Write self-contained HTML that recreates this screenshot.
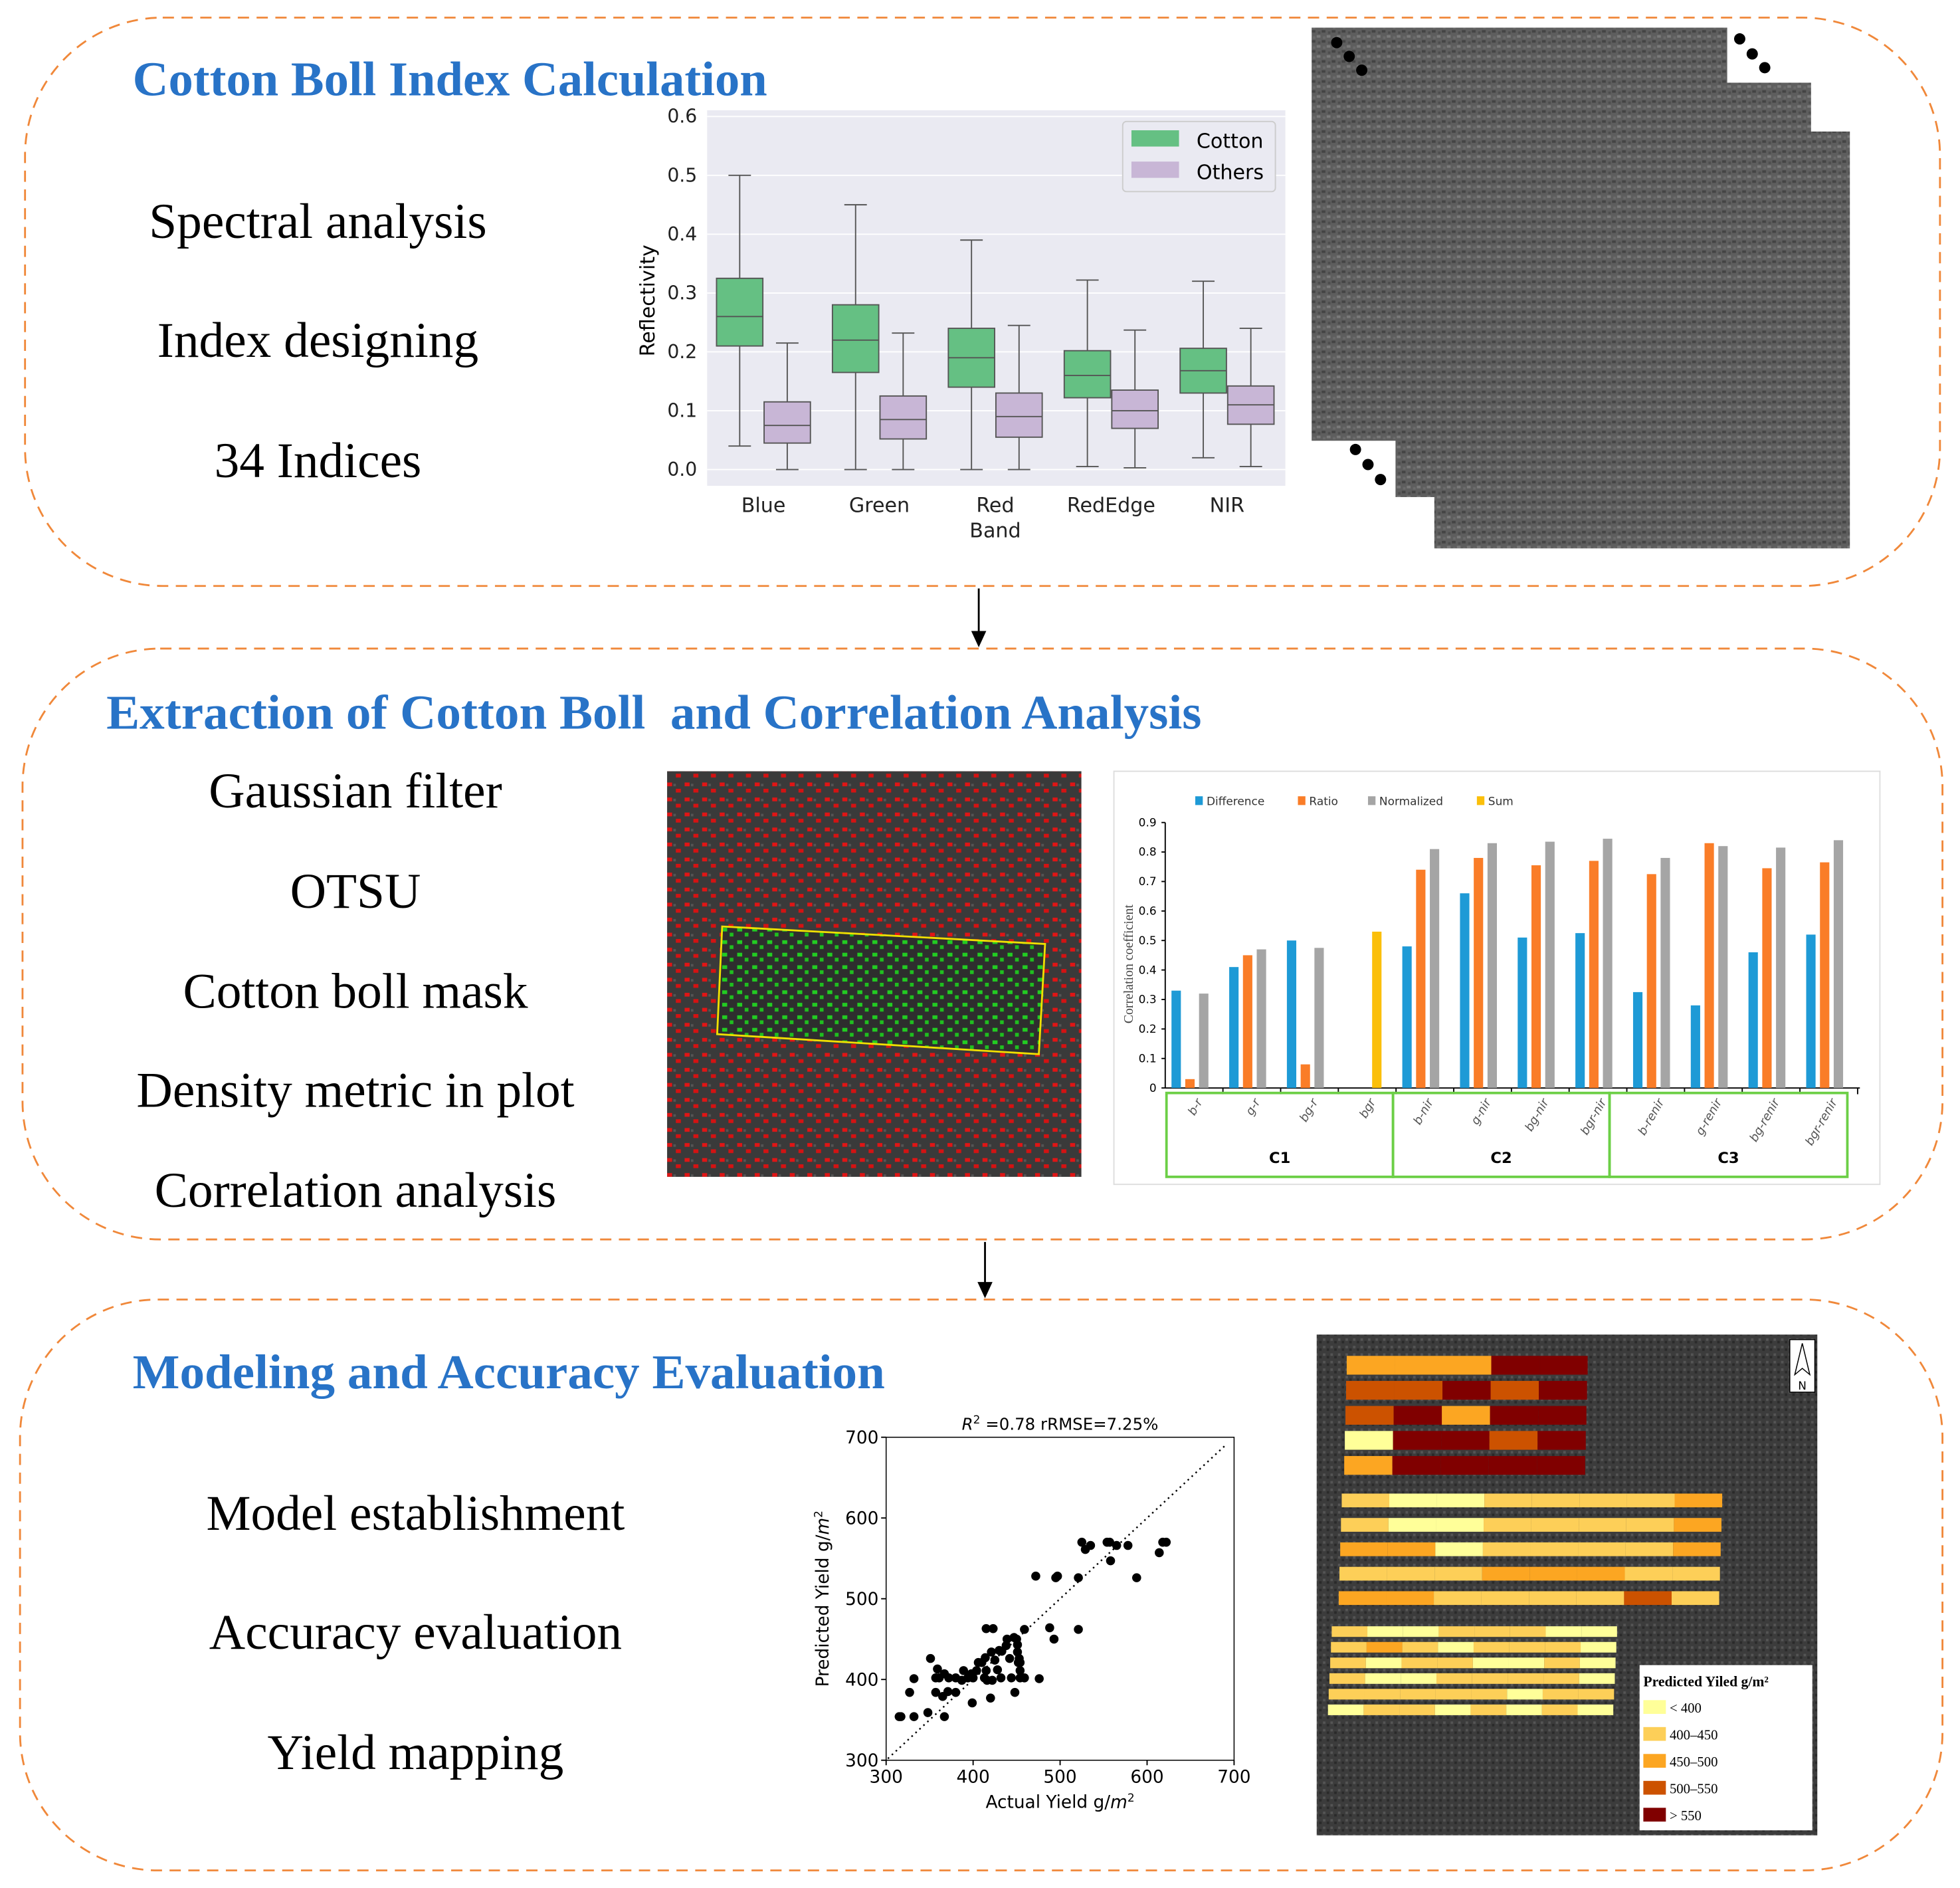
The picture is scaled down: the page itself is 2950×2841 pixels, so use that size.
<!DOCTYPE html>
<html><head><meta charset="utf-8"><style>
html,body{margin:0;padding:0;background:#fff}
svg{display:block}
.t{font-family:"Liberation Serif",serif}
.s{font-family:"DejaVu Sans","Liberation Sans",sans-serif}
</style></head><body>
<svg id="root" width="2950" height="2841" viewBox="0 0 1566 1508" xmlns="http://www.w3.org/2000/svg">
<defs>
<pattern id="noise" width="8" height="8" patternUnits="userSpaceOnUse"><rect width="8" height="8" fill="#5e5e5e"/><rect x="0" y="0" width="3" height="2" fill="#444"/><rect x="4" y="4" width="3" height="2" fill="#7a7a7a"/><rect x="5" y="1" width="2" height="2" fill="#4e4e4e"/><rect x="1" y="5" width="2" height="2" fill="#6b6b6b"/></pattern>
<pattern id="redspk" width="14" height="12" patternUnits="userSpaceOnUse"><rect width="14" height="12" fill="#3a3a3a"/><rect x="1" y="1" width="4" height="3" fill="#e01515"/><rect x="8" y="6" width="4" height="3" fill="#d41212"/><rect x="6" y="2" width="2" height="2" fill="#555"/></pattern>
<pattern id="grnspk" width="12" height="10" patternUnits="userSpaceOnUse"><rect width="12" height="10" fill="#2e2e2e"/><rect x="1" y="1" width="4" height="3" fill="#22cc22"/><rect x="7" y="5" width="3" height="3" fill="#1fbf1f"/></pattern>
<pattern id="dark" width="6" height="6" patternUnits="userSpaceOnUse"><rect width="6" height="6" fill="#3c3c3c"/><rect x="1" y="1" width="2" height="2" fill="#555"/><rect x="4" y="3" width="2" height="2" fill="#2a2a2a"/></pattern>
</defs>

<rect x="20" y="14" width="1530" height="454" rx="110" fill="none" stroke="#f0883a" stroke-width="1.5" stroke-dasharray="9,6"/>
<rect x="18" y="518" width="1534" height="472" rx="110" fill="none" stroke="#f0883a" stroke-width="1.5" stroke-dasharray="9,6"/>
<rect x="16" y="1038" width="1536" height="456" rx="110" fill="none" stroke="#f0883a" stroke-width="1.5" stroke-dasharray="9,6"/>
<g><line x1="782" y1="470" x2="782" y2="506" stroke="#000" stroke-width="1.5"/><polygon points="776,504 788,504 782,517" fill="#000"/></g>
<g><line x1="787" y1="992" x2="787" y2="1026" stroke="#000" stroke-width="1.5"/><polygon points="781,1024 793,1024 787,1037" fill="#000"/></g>

<text x="106" y="76" class="t" font-size="39" font-weight="bold" fill="#2873c7" textLength="507" lengthAdjust="spacingAndGlyphs">Cotton Boll Index Calculation</text>
<text x="85" y="582" class="t" font-size="39" font-weight="bold" fill="#2873c7" textLength="875" lengthAdjust="spacingAndGlyphs">Extraction of Cotton Boll &#160;and Correlation Analysis</text>
<text x="106" y="1109" class="t" font-size="39" font-weight="bold" fill="#2873c7" textLength="601" lengthAdjust="spacingAndGlyphs">Modeling and Accuracy Evaluation</text>

<g class="t" font-size="40" text-anchor="middle" fill="#000">
<text x="254" y="190">Spectral analysis</text>
<text x="254" y="285">Index designing</text>
<text x="254" y="381">34 Indices</text>
<text x="284" y="645">Gaussian filter</text>
<text x="284" y="725">OTSU</text>
<text x="284" y="805">Cotton boll mask</text>
<text x="284" y="884">Density metric in plot</text>
<text x="284" y="964">Correlation analysis</text>
<text x="332" y="1222">Model establishment</text>
<text x="332" y="1317">Accuracy evaluation</text>
<text x="332" y="1413">Yield mapping</text>
</g>

<g id="boxplot">
<rect x="565" y="88" width="462" height="300" fill="#eaeaf2"/>
</g>

<g>
<rect x="1048" y="22" width="332" height="330" fill="url(#noise)"/>
<rect x="1115" y="66" width="332" height="331" fill="url(#noise)"/>
<rect x="1146" y="105" width="332" height="333" fill="url(#noise)"/>
<g fill="#000"><circle cx="1068" cy="34" r="4.5"/><circle cx="1078" cy="45" r="4.5"/><circle cx="1088" cy="56" r="4.5"/>
<circle cx="1390" cy="31" r="4.5"/><circle cx="1400" cy="43" r="4.5"/><circle cx="1410" cy="54" r="4.5"/>
<circle cx="1083" cy="359" r="4.5"/><circle cx="1093" cy="371" r="4.5"/><circle cx="1103" cy="383" r="4.5"/></g>
</g>

<g>
<rect x="533" y="616" width="331" height="324" fill="url(#redspk)"/>
<polygon points="577,740 835,754 830,842 573,826" fill="url(#grnspk)" stroke="#f0e000" stroke-width="1.5"/>
</g>

<g id="barchart">
<rect x="890" y="616" width="612" height="330" fill="#fff" stroke="#ddd" stroke-width="1"/>
</g>

<g id="scatter"></g>

<g id="yieldmap">
<rect x="1052" y="1066" width="400" height="400" fill="url(#dark)"/>
<rect x="1430" y="1070" width="20" height="42" fill="#fff" stroke="#000" stroke-width="0.8"/>
<polygon points="1440,1073 1434,1098 1440,1093 1446,1098" fill="none" stroke="#000" stroke-width="0.8"/>
<text x="1440" y="1110" font-size="9" text-anchor="middle" class="s">N</text>
</g>

<script>
var NS="http://www.w3.org/2000/svg";
function mk(parent,tag,attrs){var e=document.createElementNS(NS,tag);for(var k in attrs)e.setAttribute(k,attrs[k]);parent.appendChild(e);return e;}
function unitLabel(t,prefix){
 var a=mk(t,"tspan",{});a.textContent=prefix;
 var b=mk(t,"tspan",{"font-style":"italic"});b.textContent="m";
 var c=mk(t,"tspan",{"font-size":"9",dy:"-5"});c.textContent="2";
}

/* ---------- Boxplot data ---------- */
var bandNames=["Blue","Green","Red\nBand","RedEdge","NIR"];
var cottonWhiskLo=[0.04,0,0,0.005,0.02];
var cottonQ1=[0.21,0.165,0.14,0.122,0.13];
var cottonMed=[0.26,0.22,0.19,0.16,0.168];
var cottonQ3=[0.325,0.28,0.24,0.202,0.206];
var cottonWhiskHi=[0.5,0.45,0.39,0.322,0.32];
var othersWhiskLo=[0,0,0,0.003,0.005];
var othersQ1=[0.045,0.052,0.055,0.07,0.077];
var othersMed=[0.075,0.085,0.09,0.1,0.11];
var othersQ3=[0.115,0.125,0.13,0.135,0.142];
var othersWhiskHi=[0.215,0.232,0.245,0.237,0.24];
var reflTicks=[0,0.1,0.2,0.3,0.4,0.5,0.6];
(function(){
var g=document.getElementById("boxplot");
function y(v){return 375-v*470;}
function xc(i){return 610+i*92.6;}
reflTicks.forEach(function(t){
 var l=mk(g,"line",{x1:565,x2:1027,y1:y(t),y2:y(t),stroke:"#fff","stroke-width":1});
 
 
 var tx=mk(g,"text",{x:557,y:y(t)+5,"font-size":15,"text-anchor":"end","class":"s",fill:"#222"});tx.textContent=t.toFixed(1);
 
 
});
var yl=mk(g,"text",{x:0,y:0,"font-size":16,"text-anchor":"middle","class":"s",transform:"translate(523,240) rotate(-90)"});yl.textContent="Reflectivity";


function box(cx,lo,q1,md,q3,hi,fill,name){
 var w=37;
 var bg=mk(g,"g",{});
 
 
 mk(bg,"line",{x1:cx,x2:cx,y1:y(hi),y2:y(q3),stroke:"#555","stroke-width":1});
 mk(bg,"line",{x1:cx,x2:cx,y1:y(q1),y2:y(lo),stroke:"#555","stroke-width":1});
 mk(bg,"line",{x1:cx-9,x2:cx+9,y1:y(hi),y2:y(hi),stroke:"#555","stroke-width":1});
 mk(bg,"line",{x1:cx-9,x2:cx+9,y1:y(lo),y2:y(lo),stroke:"#555","stroke-width":1});
 mk(bg,"rect",{x:cx-w/2,y:y(q3),width:w,height:y(q1)-y(q3),fill:fill,stroke:"#555","stroke-width":1});
 mk(bg,"line",{x1:cx-w/2,x2:cx+w/2,y1:y(md),y2:y(md),stroke:"#555","stroke-width":1});
}
bandNames.forEach(function(n,i){
 box(xc(i)-19,cottonWhiskLo[i],cottonQ1[i],cottonMed[i],cottonQ3[i],cottonWhiskHi[i],"#65c083","box-cotton");
 box(xc(i)+19,othersWhiskLo[i],othersQ1[i],othersMed[i],othersQ3[i],othersWhiskHi[i],"#c8b6d6","box-others");
 n.split("\n").forEach(function(p,k){
  var t=mk(g,"text",{x:xc(i),y:409+k*20,"font-size":16,"text-anchor":"middle","class":"s",fill:"#222"});t.textContent=p;
  
  
 });
});
var lg=mk(g,"g",{});


mk(lg,"rect",{x:897,y:97,width:122,height:56,rx:3,fill:"#eaeaf2",stroke:"#ccc"});
mk(lg,"rect",{x:904,y:104,width:38,height:13,fill:"#65c083"});
mk(lg,"rect",{x:904,y:129,width:38,height:13,fill:"#c8b6d6"});
var a=mk(lg,"text",{x:956,y:118,"font-size":16,"class":"s"});a.textContent="Cotton";
var b=mk(lg,"text",{x:956,y:143,"font-size":16,"class":"s"});b.textContent="Others";
})();

/* ---------- Bar chart data ---------- */
var indexNames=["b-r","g-r","bg-r","bgr","b-nir","g-nir","bg-nir","bgr-nir","b-renir","g-renir","bg-renir","bgr-renir"];
var diffVals=[0.33,0.41,0.50,null,0.48,0.66,0.51,0.525,0.325,0.28,0.46,0.52];
var ratioVals=[0.03,0.45,0.08,null,0.74,0.78,0.755,0.77,0.725,0.83,0.745,0.765];
var normVals=[0.32,0.47,0.475,null,0.81,0.83,0.835,0.845,0.78,0.82,0.815,0.84];
var sumVals=[null,null,null,0.53,null,null,null,null,null,null,null,null];
var corrTicks=[0,0.1,0.2,0.3,0.4,0.5,0.6,0.7,0.8,0.9];
(function(){
var g=document.getElementById("barchart");
function y(v){return 869-v*235.6;}
var x0=931,gw=46.1;
mk(g,"line",{x1:931,x2:931,y1:657,y2:869,stroke:"#000","stroke-width":1});
mk(g,"line",{x1:931,x2:1486,y1:869,y2:869,stroke:"#000","stroke-width":1});
corrTicks.forEach(function(t){
 mk(g,"line",{x1:928,x2:931,y1:y(t),y2:y(t),stroke:"#000"});
 var tx=mk(g,"text",{x:924,y:y(t)+3,"font-size":9,"text-anchor":"end","class":"s"});tx.textContent=String(t);
 
 
});
var yl=mk(g,"text",{x:0,y:0,"font-size":10.5,"text-anchor":"middle","class":"t",fill:"#444",transform:"translate(905,770) rotate(-90)"});yl.textContent="Correlation coefficient";


var series=[[diffVals,"#1e9ad6",9,"bar-difference"],[ratioVals,"#fa7d28",20,"bar-ratio"],[normVals,"#a5a5a5",31,"bar-normalized"],[sumVals,"#fbbf0a",31,"bar-sum"]];
indexNames.forEach(function(n,i){
 var gx=x0+i*gw;
 mk(g,"line",{x1:gx+gw,x2:gx+gw,y1:869,y2:874,stroke:"#000"});
 series.forEach(function(s){
  var v=s[0][i]; if(v==null)return;
  var r=mk(g,"rect",{x:gx+s[2]-4,y:y(v),width:7.5,height:869-y(v),fill:s[1]});
  
  
 });
 var t=mk(g,"text",{x:0,y:0,"font-size":9.5,"text-anchor":"end","class":"s",fill:"#555","font-style":"italic",transform:"translate("+(gx+30)+",880) rotate(-60)"});t.textContent=n;
 
 
});
[[932,1113,"C1"],[1113,1286,"C2"],[1286,1476,"C3"]].forEach(function(c){
 var r=mk(g,"rect",{x:c[0],y:873,width:c[1]-c[0],height:67,fill:"none",stroke:"#6ccf46","stroke-width":2});
 
 
 var t=mk(g,"text",{x:(c[0]+c[1])/2,y:929,"font-size":12,"font-weight":"bold","text-anchor":"middle","class":"s"});t.textContent=c[2];
});
var legs=[["Difference","#1e9ad6",955],["Ratio","#fa7d28",1037],["Normalized","#a5a5a5",1093],["Sum","#fbbf0a",1180]];
legs.forEach(function(l){
 var lg=mk(g,"g",{});
 
 
 mk(lg,"rect",{x:l[2],y:636,width:6,height:7,fill:l[1]});
 var t=mk(lg,"text",{x:l[2]+9,y:643,"font-size":9,"class":"s",fill:"#333"});t.textContent=l[0];
});
})();

/* ---------- Scatter data ---------- */
var actualYield=[315,317,327,332,332,348,351,357,357,359,361,365,367,367,371,372,380,380,387,389,394,398,399,400,404,406,410,413,414,415,415,416,420,421,422,423,425,428,430,432,433,438,439,442,444,447,448,450,451,451,452,453,454,454,454,459,459,472,476,488,493,495,497,521,521,525,529,535,554,557,558,565,578,588,614,618,622];
var predictedYield=[354,354,384,401,354,359,426,402,384,413,402,379,407,354,385,402,384,402,399,411,402,407,371,402,411,421,421,402,427,463,411,399,377,434,399,463,424,412,436,402,435,442,450,426,402,452,384,450,443,434,421,426,402,411,421,402,462,528,401,464,450,526,528,526,462,570,561,566,570,570,547,566,566,526,557,570,570];
var scatTicks=[300,400,500,600,700];
(function(){
var g=document.getElementById("scatter");
function x(v){return 708+(v-300)*278/400;}
function y(v){return 1406-(v-300)*258/400;}
mk(g,"rect",{x:708,y:1148,width:278,height:258,fill:"#fff",stroke:"#000","stroke-width":0.8});
mk(g,"line",{x1:x(302),y1:y(302),x2:x(690),y2:y(690),stroke:"#000","stroke-width":1.3,"stroke-dasharray":"1.3,3"});
scatTicks.forEach(function(t){
 mk(g,"line",{x1:x(t),x2:x(t),y1:1406,y2:1410,stroke:"#000"});
 mk(g,"line",{x1:704,x2:708,y1:y(t),y2:y(t),stroke:"#000"});
 var a=mk(g,"text",{x:x(t),y:1424,"font-size":14,"text-anchor":"middle","class":"s"});a.textContent=t;
 
 
 var b=mk(g,"text",{x:702,y:y(t)+5,"font-size":14,"text-anchor":"end","class":"s"});b.textContent=t;
 
 
});
actualYield.forEach(function(v,i){
 var c=mk(g,"circle",{cx:x(v),cy:y(predictedYield[i]),r:3.6,fill:"#000"});
 
 
});
var t=mk(g,"text",{x:847,y:1142,"font-size":13,"text-anchor":"middle","class":"s"});
var t1=mk(t,"tspan",{"font-style":"italic"});t1.textContent="R";
var t2=mk(t,"tspan",{"font-size":"9",dy:"-5"});t2.textContent="2";
var t3=mk(t,"tspan",{dy:"5"});t3.textContent=" =0.78 rRMSE=7.25%";


var xl=mk(g,"text",{x:847,y:1444,"font-size":14,"text-anchor":"middle","class":"s"});
unitLabel(xl,"Actual Yield g/");


var yl=mk(g,"text",{x:0,y:0,"font-size":14,"text-anchor":"middle","class":"s",transform:"translate(662,1277) rotate(-90)"});
unitLabel(yl,"Predicted Yield g/");


})();

/* ---------- Yield map data (class index per plot cell) ---------- */
var yieldClassColors=["#ffff99","#fdcf58","#fca622","#cc5200","#800000"];
var yieldClassLabels=["< 400","400\u2013450","450\u2013500","500\u2013550","> 550"];
var blockA=[[2,2,2,4,4],[3,3,4,3,4],[3,4,2,4,4],[0,4,4,3,4],[2,4,4,4,4]];
var blockB=[[1,0,0,1,1,1,1,2],[1,0,0,1,1,1,1,2],[2,2,0,1,1,1,1,2],[1,1,1,2,2,2,1,1],[2,2,1,1,1,1,3,1]];
var blockC=[[1,0,0,1,1,1,0,0],[1,2,1,0,1,1,1,0],[1,0,1,1,0,0,1,0],[1,0,0,1,1,1,1,0],[1,1,1,1,1,0,1,1],[0,1,1,0,1,0,1,0]];
(function(){
var g=document.getElementById("yieldmap");
function draw(block,x0,y0,cw,ch,gap,skew){
 block.forEach(function(row,r){
  row.forEach(function(c,k){
   var cell=mk(g,"rect",{x:x0+k*cw-r*skew,y:y0+r*gap,width:cw,height:ch,fill:yieldClassColors[c]});
   
   
  });
 });
}
draw(blockA,1076,1083,38.5,15,20,0.5);
draw(blockB,1072,1193,38,11,19.5,0.6);
draw(blockC,1064,1299,28.5,8.5,12.5,0.6);
mk(g,"rect",{x:1310,y:1330,width:138,height:132,fill:"#fff"});
var t=mk(g,"text",{x:1313,y:1347,"font-size":11.5,"font-weight":"bold","class":"t"});t.textContent="Predicted Yiled g/m\u00b2";
yieldClassLabels.forEach(function(l,i){
 var lg=mk(g,"g",{});
 
 
 mk(lg,"rect",{x:1313,y:1358+i*21.5,width:18,height:11,fill:yieldClassColors[i]});
 var tx=mk(lg,"text",{x:1334,y:1368+i*21.5,"font-size":11,"class":"t"});tx.textContent=l;
});
})();
</script>
</svg>
</body></html>
